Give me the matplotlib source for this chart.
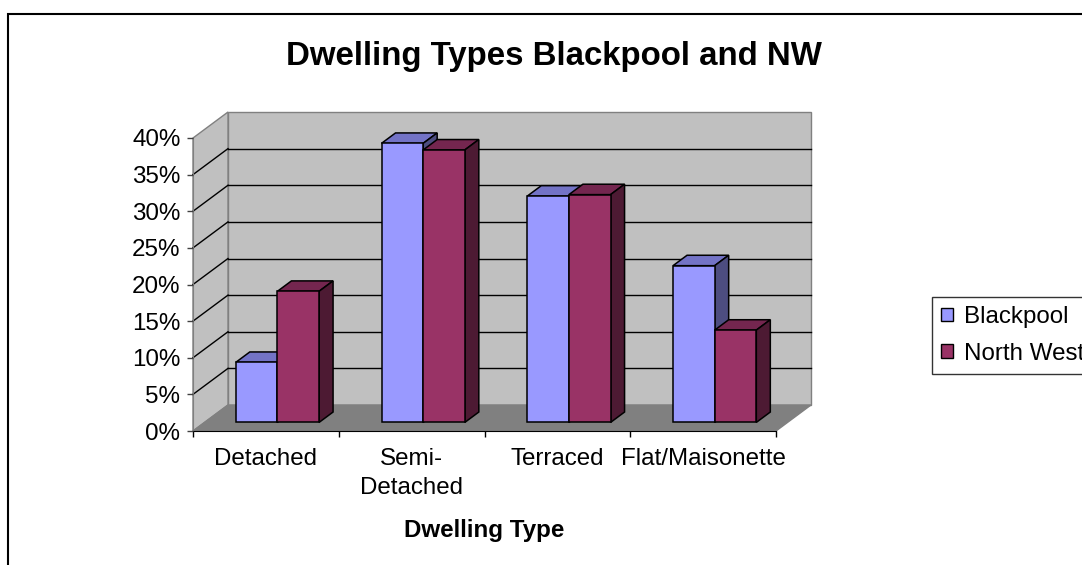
import numpy as np
import matplotlib.pyplot as plt
from matplotlib.patches import Polygon, Rectangle
from matplotlib.lines import Line2D
from matplotlib.transforms import IdentityTransform

categories = ['Detached', 'Semi-\nDetached', 'Terraced', 'Flat/Maisonette']
series_names = ['Blackpool', 'North West']
blackpool = [8.2, 38.1, 30.9, 21.4]
north_west = [17.9, 37.2, 31.1, 12.6]
yticks = np.arange(0, 41, 5)

# face colours per series: front, top, side
blackpool_cols = ('#9999FF', '#7373C6', '#4D4D80')
north_west_cols = ('#993366', '#74264F', '#4D1A33')

plt.rcParams['font.family'] = ['Liberation Sans', 'DejaVu Sans']

W, H = 1082, 565
fig = plt.figure(figsize=(W / 100, H / 100), dpi=100)
ax = fig.add_axes([193 / W, 134 / H, 583 / W, 293 / H])
ax.set_xlim(0, len(categories))
ax.set_ylim(0, 40)
ax.set_autoscale_on(False)
ax.patch.set_visible(False)

# depth of the 3d box in screen pixels
DX, DY = 35, 26


def P(x, y, f=0.0):
    px, py = ax.transData.transform((x, y))
    return (px + f * DX, py + f * DY)


def face(pts, fc, ec, lw, z):
    ax.add_patch(Polygon(pts, closed=True, facecolor=fc, edgecolor=ec, lw=lw,
                         transform=IdentityTransform(), clip_on=False, zorder=z))


def seg(a, b, color, lw, z):
    ax.add_line(Line2D([a[0], b[0]], [a[1], b[1]], color=color, lw=lw,
                       transform=IdentityTransform(), clip_on=False, zorder=z))


n = len(categories)
# walls and floor
face([P(0, 0, 1), P(n, 0, 1), P(n, 40, 1), P(0, 40, 1)], '#C0C0C0', '#808080', 1.0, 0.5)
face([P(0, 0, 0), P(0, 0, 1), P(0, 40, 1), P(0, 40, 0)], '#C0C0C0', '#808080', 1.0, 0.5)
face([P(0, 0, 0), P(n, 0, 0), P(n, 0, 1), P(0, 0, 1)], '#808080', '#808080', 1.0, 0.6)
for y in yticks[1:-1]:
    seg(P(0, y, 1), P(n, y, 1), 'black', 1.0, 0.7)
    seg(P(0, y, 0), P(0, y, 1), 'black', 1.0, 0.7)

# bars
w = 1 / 3.5
f0, f1 = 0.33, 0.73
z = 1
for i in range(n):
    for s, (vals, cols) in enumerate([(blackpool, blackpool_cols), (north_west, north_west_cols)]):
        x0 = i + 0.5 - w + s * w
        x1 = x0 + w
        v = vals[i]
        face([P(x0, v, f0), P(x1, v, f0), P(x1, v, f1), P(x0, v, f1)], cols[1], 'black', 1.1, z)
        face([P(x1, 0, f0), P(x1, 0, f1), P(x1, v, f1), P(x1, v, f0)], cols[2], 'black', 1.1, z)
        face([P(x0, 0, f0), P(x1, 0, f0), P(x1, v, f0), P(x0, v, f0)], cols[0], 'black', 1.1, z)
        z += 1

# axes
for side in ['top', 'right']:
    ax.spines[side].set_visible(False)
ax.spines['left'].set_color('#808080')
ax.spines['bottom'].set_color('black')
ax.spines['left'].set_zorder(0.8)
ax.spines['bottom'].set_zorder(0.8)

ax.set_yticks(yticks)
ax.set_yticklabels(['%d%%' % t for t in yticks], fontsize=17.4)
ax.tick_params(axis='y', length=4.5, width=1, color='#404040', pad=4.5)

ax.set_xticks(np.arange(n + 1))
ax.set_xticklabels([])
ax.set_xticks(np.arange(n) + 0.5, minor=True)
ax.set_xticklabels(categories, minor=True, fontsize=17.4)
for lab in ax.get_xticklabels(minor=True):
    lab.set_linespacing(1.38)
ax.tick_params(axis='x', which='major', length=4.5, width=1, color='black')
ax.tick_params(axis='x', which='minor', length=0, pad=12.5)

ax.set_xlabel('Dwelling Type', fontsize=17.4, fontweight='bold', va='center')
ax.xaxis.set_label_coords(0.5, (35 - 134) / 293)

fig.text(554 / W, 1 - 57 / H, 'Dwelling Types Blackpool and NW', fontsize=23.8,
         fontweight='bold', ha='center', va='center')

handles = [Rectangle((0, 0), 1, 1, facecolor=c[0], edgecolor='black', lw=1)
           for c in (blackpool_cols, north_west_cols)]
fig.legend(handles, series_names, loc='upper left', bbox_to_anchor=(932 / W, 1 - 297 / H),
           fontsize=17.4, frameon=True, fancybox=False, edgecolor='black',
           handlelength=0.5, handleheight=0.5, handletextpad=0.45,
           borderpad=0.38, labelspacing=0.6, borderaxespad=0)

# chart border
fig.add_artist(Rectangle((7.5 / W, -0.1), 2, 1 - 14 / H + 0.1, fill=False,
                         edgecolor='black', lw=1.5, transform=fig.transFigure))

fig.savefig('out.png', dpi=100)
